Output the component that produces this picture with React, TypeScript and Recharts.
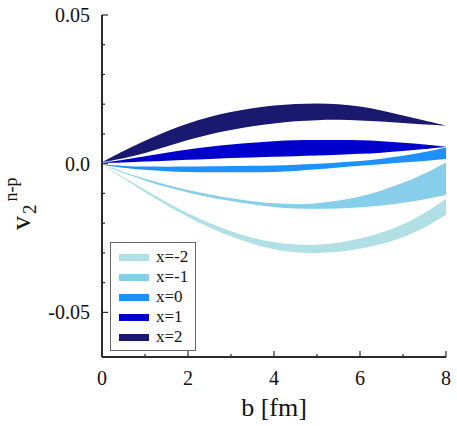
import {
  Area,
  ComposedChart,
  Legend,
  XAxis,
  YAxis,
} from "recharts";

const bValues = [0, 0.5, 1, 1.5, 2, 2.5, 3, 3.5, 4, 4.5, 5, 5.5, 6, 6.5, 7, 7.5, 8];

const xm2Hi = [-0.0003, -0.0045, -0.0088, -0.013, -0.0167, -0.02, -0.0228, -0.025, -0.0265, -0.0273, -0.0274, -0.0267, -0.0253, -0.0232, -0.0205, -0.0168, -0.0118];
const xm2Lo = [-0.0003, -0.005, -0.0096, -0.014, -0.018, -0.0215, -0.0245, -0.027, -0.0289, -0.0299, -0.0301, -0.0297, -0.0287, -0.0271, -0.0249, -0.0216, -0.0172];

const xm1Hi = [-0.0003, -0.0028, -0.0051, -0.0071, -0.0089, -0.0104, -0.0117, -0.0127, -0.0134, -0.0137, -0.0134, -0.0125, -0.0111, -0.0091, -0.0065, -0.0034, 0.0004];
const xm1Lo = [-0.0003, -0.0032, -0.0057, -0.0079, -0.0097, -0.0113, -0.0126, -0.0137, -0.0146, -0.0151, -0.0152, -0.0151, -0.0147, -0.0141, -0.0132, -0.012, -0.0105];

const x0Hi = [-0.0003, -0.0008, -0.001, -0.001, -0.001, -0.0009, -0.0008, -0.0007, -0.0006, -0.0004, 0.0, 0.0004, 0.0009, 0.0016, 0.0026, 0.0039, 0.0055];
const x0Lo = [-0.0003, -0.0014, -0.0021, -0.0026, -0.0028, -0.0029, -0.0029, -0.0029, -0.0028, -0.0025, -0.0019, -0.0013, -0.0007, -0.0002, 0.0004, 0.0009, 0.0016];

const x1Hi = [0.0003, 0.0013, 0.0025, 0.0037, 0.0048, 0.0057, 0.0065, 0.0071, 0.0076, 0.0079, 0.008, 0.008, 0.0079, 0.0076, 0.0071, 0.0065, 0.0057];
const x1Lo = [0.0003, 0.0004, 0.0007, 0.001, 0.0013, 0.0016, 0.0019, 0.0021, 0.0023, 0.0025, 0.0027, 0.003, 0.0033, 0.0037, 0.0042, 0.0049, 0.0057];

const x2Hi = [0.0005, 0.0043, 0.0078, 0.0109, 0.0136, 0.0158, 0.0175, 0.0187, 0.0196, 0.0201, 0.0203, 0.0201, 0.0193, 0.0179, 0.0162, 0.0145, 0.0128];
const x2Lo = [0.0005, 0.0018, 0.0035, 0.0058, 0.008, 0.0099, 0.0114, 0.0126, 0.0136, 0.0143, 0.0147, 0.0148, 0.0146, 0.0142, 0.0137, 0.0132, 0.0128];

const xTicks = [0, 1, 2, 3, 4, 5, 6, 7, 8];
const xMajor = [0, 2, 4, 6, 8];
const xLabels = ["0", "2", "4", "6", "8"];

const yTicks = [-0.05, -0.04, -0.03, -0.02, -0.01, 0, 0.01, 0.02, 0.03, 0.04, 0.05];
const yMajor = [-0.05, 0, 0.05];
const yLabels = ["-0.05", "0.0", "0.05"];

const series = [
  { key: "xm2", name: "x=-2", color: "#B0E0E6", lo: xm2Lo, hi: xm2Hi },
  { key: "xm1", name: "x=-1", color: "#87CEEB", lo: xm1Lo, hi: xm1Hi },
  { key: "x0", name: "x=0", color: "#1E90FF", lo: x0Lo, hi: x0Hi },
  { key: "x1", name: "x=1", color: "#0000CD", lo: x1Lo, hi: x1Hi },
  { key: "x2", name: "x=2", color: "#191970", lo: x2Lo, hi: x2Hi },
];

const data = bValues.map((b, i) => {
  const row: Record<string, number | number[]> = { b };
  series.forEach((s) => {
    row[s.key] = [s.lo[i], s.hi[i]];
  });
  return row;
});

const FONT = "Liberation Serif, DejaVu Serif, serif";
const AXIS = "#2a2a2a";
const TEXT = "#111";

const findMajor = (list: number[], v: number) =>
  list.findIndex((m) => Math.abs(m - v) < 1e-9);

function BottomTick(props: any) {
  const { x, y, payload } = props;
  const idx = findMajor(xMajor, payload.value);
  const len = idx >= 0 ? 6 : 3;
  return (
    <g>
      <line x1={x} x2={x} y1={y} y2={y - len} stroke={AXIS} strokeWidth={1.2} />
      {idx >= 0 && (
        <text x={x} y={y + 28} textAnchor="middle" style={{ fontFamily: FONT, fontSize: 20 }} fill={TEXT}>
          {xLabels[idx]}
        </text>
      )}
    </g>
  );
}

function TopTick(props: any) {
  const { x, y, payload } = props;
  const len = findMajor(xMajor, payload.value) >= 0 ? 6 : 3;
  return <line x1={x} x2={x} y1={y} y2={y + len} stroke={AXIS} strokeWidth={1.2} />;
}

function LeftTick(props: any) {
  const { x, y, payload } = props;
  const idx = findMajor(yMajor, payload.value);
  const len = idx >= 0 ? 6 : 3;
  return (
    <g>
      <line x1={x} x2={x + len} y1={y} y2={y} stroke={AXIS} strokeWidth={1.2} />
      {idx >= 0 && (
        <text x={x - 12} y={y} dy="0.35em" textAnchor="end" style={{ fontFamily: FONT, fontSize: 20 }} fill={TEXT}>
          {yLabels[idx]}
        </text>
      )}
    </g>
  );
}

function RightTick(props: any) {
  const { x, y, payload } = props;
  const len = findMajor(yMajor, payload.value) >= 0 ? 6 : 3;
  return <line x1={x} x2={x - len} y1={y} y2={y} stroke={AXIS} strokeWidth={1.2} />;
}

function YLabel(props: any) {
  const vb = props.viewBox;
  const bx = vb.x + 30;
  const by = vb.y + vb.height / 2 + 44;
  return (
    <text
      x={bx}
      y={by}
      transform={`rotate(-90, ${bx}, ${by})`}
      style={{ fontFamily: FONT }}
      fill={TEXT}
    >
      <tspan fontSize={28}>v</tspan>
      <tspan fontSize={19} dy={6} dx={2}>2</tspan>
      <tspan fontSize={18} dy={-19} dx={3}>n-p</tspan>
    </text>
  );
}

function BandLegend() {
  return (
    <div
      style={{
        width: 84,
        height: 103,
        border: "1px solid #666",
        background: "#fff",
        boxSizing: "content-box",
        paddingTop: 4,
      }}
    >
      {series.map((s) => (
        <div key={s.key} style={{ display: "flex", alignItems: "center", height: 20 }}>
          <span style={{ display: "inline-block", width: 30, height: 7, background: s.color, marginLeft: 8 }} />
          <span style={{ marginLeft: 7, fontFamily: FONT, fontSize: 17, color: TEXT, lineHeight: "20px" }}>
            {s.name}
          </span>
        </div>
      ))}
    </div>
  );
}

export default function App() {
  return (
    <div style={{ position: "absolute", left: 0, top: 0, width: 457, height: 426, background: "#fff" }}>
      <ComposedChart
        width={457}
        height={426}
        data={data}
        margin={{ top: 15, right: 11, bottom: 0, left: 0 }}
      >
        <XAxis
          dataKey="b"
          type="number"
          domain={[0, 8]}
          allowDataOverflow
          ticks={xTicks}
          interval={0}
          height={69}
          tickSize={0}
          tickMargin={0}
          tickLine={false}
          axisLine={{ stroke: AXIS, strokeWidth: 2 }}
          tick={BottomTick}
          label={{
            value: "b [fm]",
            position: "insideBottom",
            offset: 10,
            fontSize: 26,
            style: { fontFamily: FONT },
            fill: TEXT,
          }}
        />
        <XAxis
          xAxisId="top"
          orientation="top"
          dataKey="b"
          type="number"
          domain={[0, 8]}
          allowDataOverflow
          ticks={xTicks}
          interval={0}
          height={0}
          tickSize={0}
          tickMargin={0}
          tickLine={false}
          axisLine={{ stroke: AXIS, strokeWidth: 2 }}
          tick={TopTick}
        />
        <YAxis
          type="number"
          domain={[-0.065, 0.05]}
          allowDataOverflow
          ticks={yTicks}
          interval={0}
          width={102}
          tickSize={0}
          tickMargin={0}
          tickLine={false}
          axisLine={{ stroke: AXIS, strokeWidth: 2 }}
          tick={LeftTick}
          label={<YLabel />}
        />
        <YAxis
          yAxisId="right"
          orientation="right"
          type="number"
          domain={[-0.065, 0.05]}
          allowDataOverflow
          ticks={yTicks}
          interval={0}
          width={0}
          tickSize={0}
          tickMargin={0}
          tickLine={false}
          axisLine={{ stroke: AXIS, strokeWidth: 2 }}
          tick={RightTick}
        />
        {series.map((s) => (
          <Area
            key={s.key}
            dataKey={s.key}
            name={s.name}
            type="basis"
            stroke="none"
            fill={s.color}
            fillOpacity={1}
            isAnimationActive={false}
            dot={false}
            activeDot={false}
          />
        ))}
        <Legend
          layout="vertical"
          align="center"
          verticalAlign="middle"
          content={<BandLegend />}
          wrapperStyle={{ left: 110, top: 242, width: 86, height: 108 }}
        />
      </ComposedChart>
    </div>
  );
}
